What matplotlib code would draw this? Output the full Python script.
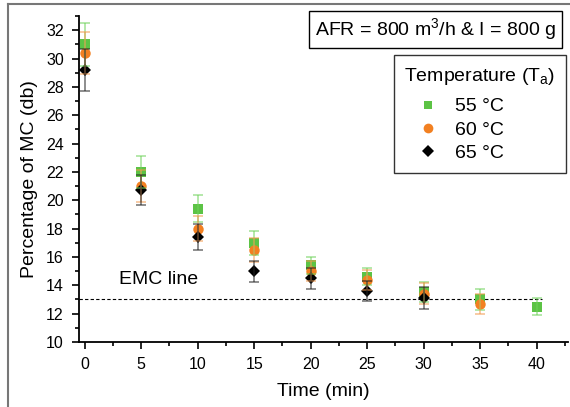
import matplotlib
matplotlib.use('Agg')
import matplotlib.pyplot as plt
from matplotlib.lines import Line2D

plt.rcParams['font.family'] = ['Liberation Sans', 'DejaVu Sans']
plt.rcParams['mathtext.default'] = 'regular'

# --- Data ---
time_min = [0, 5, 10, 15, 20, 25, 30, 35, 40]

mc_55 = [31.0, 22.0, 19.4, 17.0, 15.4, 14.6, 13.55, 13.0, 12.5]
err_55 = [1.5, 1.1, 0.95, 0.85, 0.6, 0.6, 0.7, 0.75, 0.62]

time_60 = [0, 5, 10, 15, 20, 25, 30, 35]
mc_60 = [30.4, 21.0, 18.0, 16.5, 15.0, 14.4, 13.4, 12.7]
err_60 = [1.5, 1.1, 0.9, 0.85, 0.7, 0.7, 0.75, 0.7]

time_65 = [0, 5, 10, 15, 20, 25, 30]
mc_65 = [29.2, 20.7, 17.4, 15.0, 14.5, 13.6, 13.1]
err_65 = [1.5, 1.05, 0.9, 0.75, 0.75, 0.7, 0.75]

EMC = 13.0
series = [
    ('55 °C', time_min, mc_55, err_55, 's', '#5cc345', '#6fd25a', 6.5),
    ('60 °C', time_60, mc_60, err_60, 'o', '#f28021', '#f39a4e', 7.5),
    ('65 °C', time_65, mc_65, err_65, 'D', 'black', '#222222', 6.5),
]

fig = plt.figure(figsize=(5.7, 4.07), dpi=100)
ax = fig.add_axes([0.1386, 0.1597, 0.8584, 0.801])

handles = []
for label, t, y, e, mk, col, ecol, ms in series:
    ax.plot(t, y, linestyle='none', marker=mk, color=col, markersize=ms,
            markeredgewidth=0, zorder=3)
    # error bars sit on top of the markers, a bit see-through
    ax.errorbar(t, y, yerr=e, fmt='none', ecolor=ecol, elinewidth=1.2,
                capsize=3.5, capthick=1.2, alpha=0.6, zorder=4)
    handles.append(Line2D([], [], marker=mk, color=col, linestyle='none',
                          markersize=ms - 0.5, markeredgewidth=0, label=label))

# EMC reference line
ax.plot([-0.5, 40.5], [EMC, EMC], linestyle=(0, (3, 2)), color='black', linewidth=0.8, zorder=2)
ax.text(3.0, 14.4, 'EMC line', fontsize=14, va='center', ha='left')

ax.set_xlim(-0.5, 42.8)
ax.set_ylim(10, 33)
ax.set_xticks(range(0, 41, 5))
ax.set_xticks([x * 2.5 for x in range(0, 18)], minor=True)
ax.set_yticks(range(10, 33, 2))
ax.set_yticks(range(10, 34), minor=True)
ax.tick_params(axis='both', which='major', direction='out', length=5, width=1.2,
               labelsize=11.5, pad=6)
ax.tick_params(axis='both', which='minor', direction='out', length=3, width=1.2)
for s in ['top', 'right']:
    ax.spines[s].set_visible(False)
for s in ['left', 'bottom']:
    ax.spines[s].set_linewidth(1.3)

ax.set_xlabel('Time (min)', fontsize=14, labelpad=8)
ax.set_ylabel('Percentage of MC (db)', fontsize=14, labelpad=6)

# condition box
fig.text(0.976, 0.928, 'AFR = 800 m$^3$/h & I = 800 g', fontsize=14, ha='right', va='center',
         bbox=dict(boxstyle='square,pad=0.3', facecolor='white', edgecolor='black', linewidth=1))

leg = fig.legend(handles=handles, title='Temperature (T$_a$)', loc='upper right',
                 bbox_to_anchor=(0.993, 0.865), borderaxespad=0, fontsize=14, title_fontsize=14,
                 frameon=True, fancybox=False, edgecolor='black', handletextpad=0.2,
                 borderpad=0.55, labelspacing=0.3, handlelength=2.4, alignment='left')
leg.get_frame().set_linewidth(1)
leg._legend_box.sep = 8

# outer gray frame
fig.add_artist(Line2D([0.014, 0.014], [0, 0.99], transform=fig.transFigure, color='#777777', linewidth=1.5))
fig.add_artist(Line2D([0.014, 1.0], [0.99, 0.99], transform=fig.transFigure, color='#777777', linewidth=1.5))

fig.savefig('out.png', dpi=100)
